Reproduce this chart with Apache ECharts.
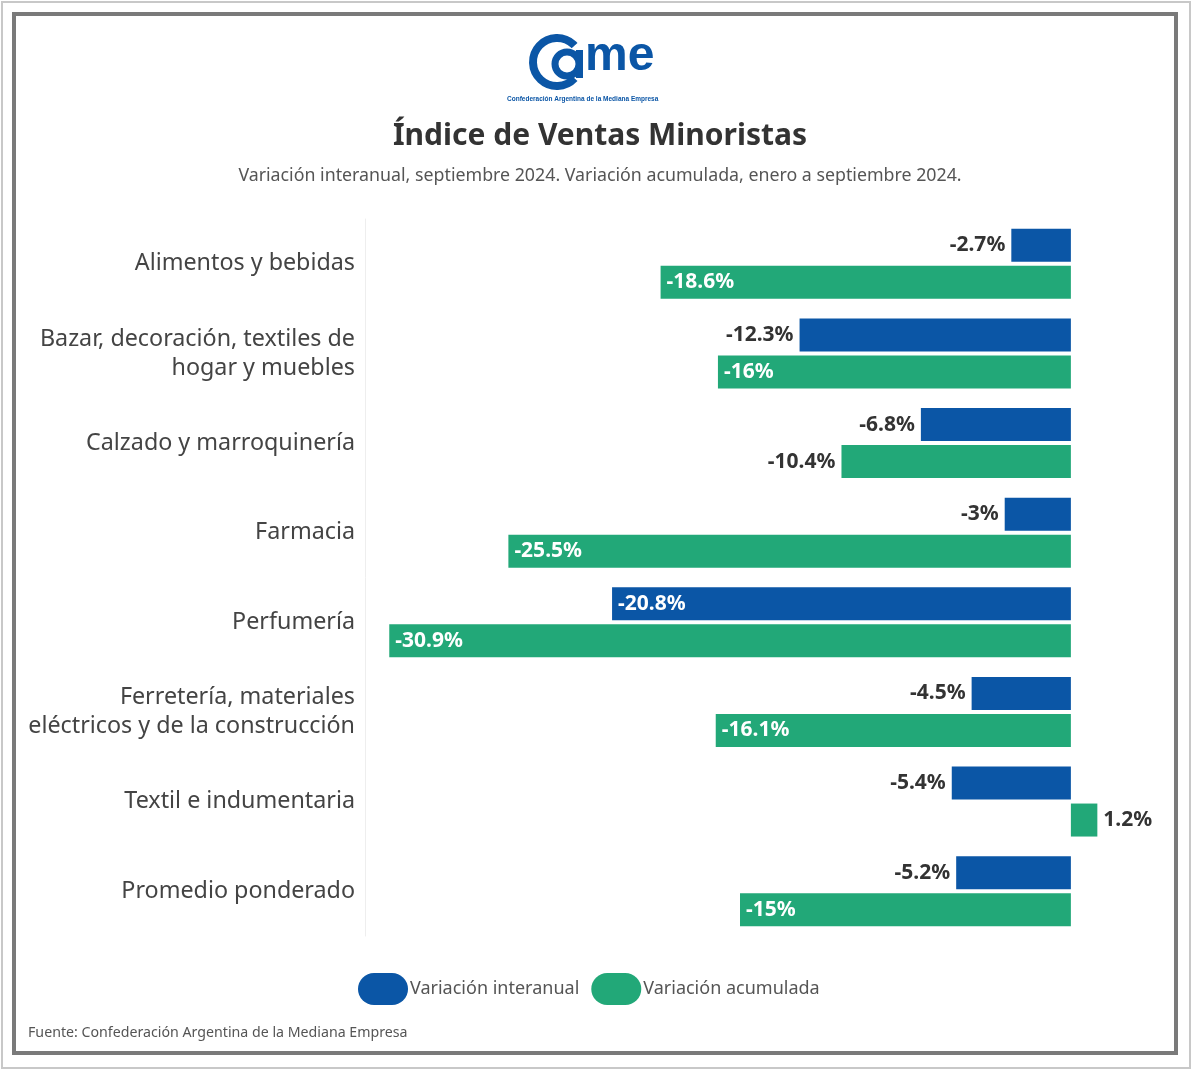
<!DOCTYPE html>
<html>
<head>
<meta charset="utf-8">
<script src="https://cdn.jsdelivr.net/npm/echarts@6/dist/echarts.min.js"></script>
<style>
html,body{margin:0;padding:0;background:#fff;}
#main{width:1200px;height:1078px;}
</style>
</head>
<body>
<div id="main"></div>
<script>
var categories = [
	'Alimentos y bebidas',
	'Bazar, decoración, textiles de\nhogar y muebles',
	'Calzado y marroquinería',
	'Farmacia',
	'Perfumería',
	'Ferretería, materiales\neléctricos y de la construcción',
	'Textil e indumentaria',
	'Promedio ponderado'
];
var interanual = [-2.7, -12.3, -6.8, -3, -20.8, -4.5, -5.4, -5.2];
var acumulada = [-18.6, -16, -10.4, -25.5, -30.9, -16.1, 1.2, -15];
var seriesNames = ['Variación interanual', 'Variación acumulada'];

var BLUE = '#0b56a6', GREEN = '#22a878';
var FONT = 'Noto Sans';

// etiqueta: fuera (gris oscuro) si la barra es corta, dentro (blanco) si es larga
function makeData(values, insideMin){
	return values.map(function(v){
		var inside = v <= -insideMin;
		var pos = v > 0 ? 'right' : (inside ? 'insideLeft' : 'left');
		return {
			value: v,
			label: {
				position: pos,
				color: inside ? '#fff' : '#333'
			}
		};
	});
}

var pill = 'path://M16,0 H34 A16,16 0 0 1 34,32 H16 A16,16 0 0 1 16,0 Z';

var chart = echarts.init(document.getElementById('main'));
chart.setOption({
	backgroundColor: '#fff',
	textStyle: {fontFamily: FONT},
	title: [{
		text: 'Índice de Ventas Minoristas',
		left: 'center',
		top: 116,
		textStyle: {fontSize: 30, fontWeight: 'bold', color: '#333', fontFamily: FONT}
	},{
		text: 'Variación interanual, septiembre 2024. Variación acumulada, enero a septiembre 2024.',
		left: 'center',
		top: 162,
		textStyle: {fontSize: 17.8, fontWeight: 'normal', color: '#555', fontFamily: FONT}
	}],
	legend: {
		data: seriesNames,
		left: 353,
		top: 968,
		icon: pill,
		itemWidth: 50,
		itemHeight: 32,
		itemGap: 12,
		textStyle: {fontSize: 18, color: '#555', padding: [0, 0, 0, -3], fontFamily: FONT}
	},
	grid: {left: 365, right: 85, top: 219, bottom: 142},
	xAxis: {
		type: 'value',
		min: -32,
		max: 2,
		show: false,
		splitLine: {show: false}
	},
	yAxis: {
		type: 'category',
		inverse: true,
		data: categories,
		axisLine: {onZero: false, lineStyle: {color: '#eeeeee'}},
		axisTick: {show: false},
		axisLabel: {fontSize: 23.3, color: '#444', margin: 10, lineHeight: 29, fontFamily: FONT, padding: [4, 0, 0, 0]}
	},
	series: [{
		name: seriesNames[0],
		type: 'bar',
		barWidth: 33,
		barGap: '12%',
		itemStyle: {color: BLUE},
		label: {show: true, fontSize: 21, fontWeight: 'bold', distance: 6, fontFamily: FONT,
			formatter: function(p){ return p.value + '%'; }},
		data: makeData(interanual, 15)
	},{
		name: seriesNames[1],
		type: 'bar',
		barWidth: 33,
		itemStyle: {color: GREEN},
		label: {show: true, fontSize: 21, fontWeight: 'bold', distance: 6, fontFamily: FONT,
			formatter: function(p){ return p.value + '%'; }},
		data: makeData(acumulada, 15)
	}],
	graphic: [
		// marcos
		{type: 'rect', shape: {x: 2, y: 2, width: 1188, height: 1066},
			style: {fill: 'none', stroke: '#c8c8c8', lineWidth: 2}, z: -1},
		{type: 'rect', shape: {x: 14, y: 14, width: 1162, height: 1039},
			style: {fill: 'none', stroke: '#7a7a7a', lineWidth: 4}, z: -1},
		// logo CAME
		{type: 'arc', shape: {cx: 557, cy: 62, r: 24, startAngle: 0.75, endAngle: Math.PI * 2 - 0.75},
			style: {fill: 'none', stroke: BLUE, lineWidth: 8}},
		{type: 'arc', shape: {cx: 567, cy: 64, r: 12, startAngle: 0, endAngle: Math.PI * 2},
			style: {fill: 'none', stroke: BLUE, lineWidth: 7}},
		{type: 'rect', shape: {x: 576, y: 50, width: 7, height: 28},
			style: {fill: BLUE}},
		{type: 'text', left: 585, top: 33,
			style: {text: 'me', fill: BLUE, font: 'bold 48px "Liberation Sans"'}},
		{type: 'text', left: 507, top: 96,
			style: {text: 'Confederación Argentina de la Mediana Empresa', fill: BLUE, font: 'bold 6.5px "Liberation Sans"'}},
		// fuente
		{type: 'text', left: 28, top: 1026,
			style: {text: 'Fuente: Confederación Argentina de la Mediana Empresa', fill: '#555', font: '14.2px "Noto Sans"'}}
	]
});
</script>
</body>
</html>
